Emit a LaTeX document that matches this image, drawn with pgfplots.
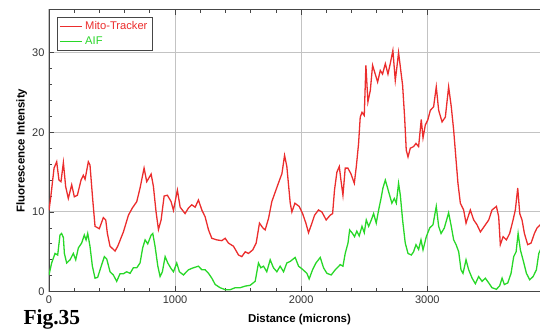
\documentclass[border=0pt]{standalone}
\usepackage{pgfplots}
\pgfplotsset{compat=1.18}
\usepackage{fontspec}
\setmainfont{Liberation Sans}
\newfontfamily\figfont{Liberation Serif}
\definecolor{mitored}{RGB}{235,45,45}
\definecolor{aifgreen}{RGB}{40,215,40}
\definecolor{gridgray}{RGB}{195,195,195}
\definecolor{framegray}{RGB}{70,70,70}

\pgfplotstableread{
x y
0 10.2
15 12.0
40 15.5
61 16.3
79 14.0
95 13.8
114 16.2
132 13.2
153 11.7
180 13.4
201 11.9
225 12.1
254 14.0
272 14.6
286 14.1
312 16.3
325 15.9
347 11.5
365 8.2
399 7.9
431 9.3
450 9.0
463 7.3
484 5.7
524 5.1
545 5.7
590 7.5
630 9.6
661 10.5
696 11.3
722 13.0
754 15.5
775 13.8
810 14.75
828 13.2
849 10.0
868 7.8
889 9.0
913 12.0
939 12.1
968 11.3
987 10.2
1018 12.75
1040 10.6
1079 9.8
1106 10.5
1132 10.9
1159 10.6
1185 11.5
1212 10.25
1238 9.4
1265 7.75
1291 6.7
1331 6.5
1370 6.4
1397 6.7
1423 6.1
1463 5.7
1503 4.6
1529 4.4
1556 5.0
1582 4.8
1616 5.25
1643 6.1
1669 8.6
1696 8.0
1714 7.75
1741 9.2
1767 11.3
1794 12.5
1828 14.0
1847 14.8
1868 17.1
1886 15.7
1913 11.1
1926 10.0
1950 11.1
1984 10.7
2011 9.8
2037 8.6
2058 7.4
2085 8.6
2106 9.6
2137 10.25
2164 10.0
2198 9.0
2230 9.6
2249 9.8
2264 12.75
2283 15.0
2302 15.7
2315 14.0
2331 12.1
2349 15.5
2370 15.5
2394 14.8
2421 13.6
2437 15.7
2455 18.6
2468 21.9
2482 22.5
2500 22.1
2513 28.4
2529 23.8
2548 25.25
2566 28.4
2587 27.3
2606 26.3
2627 27.75
2645 27.3
2667 28.6
2688 27.3
2706 28.6
2727 30.25
2746 26.5
2759 28.2
2772 30.0
2786 28.2
2804 25.9
2820 21.9
2833 17.75
2847 16.9
2865 18.0
2891 18.2
2910 18.6
2931 18.2
2952 21.6
2966 19.3
2984 20.9
3003 21.5
3024 22.75
3050 23.2
3071 25.7
3090 22.75
3117 21.3
3143 21.9
3169 25.7
3190 23.2
3209 20.25
3228 16.5
3243 13.6
3262 11.1
3288 10.25
3307 8.6
3341 10.25
3368 9.0
3394 8.4
3421 7.5
3452 8.2
3487 9.0
3513 10.25
3548 10.7
3566 9.4
3579 5.9
3601 6.9
3627 6.5
3653 7.3
3680 9.0
3698 10.25
3717 13.0
3733 9.8
3751 9.0
3770 7.3
3796 5.9
3823 6.1
3849 7.3
3870 8.0
3897 8.4
3933 8.0
}\mitodata

\pgfplotstableread{
x y
0 2.1
21 3.6
48 4.8
69 4.6
87 7.1
100 7.3
114 6.8
122 4.8
140 3.6
167 4.0
193 4.8
212 4.0
233 5.5
259 6.1
280 7.1
294 6.5
307 7.3
325 5.7
344 3.2
365 1.7
386 1.8
418 3.4
439 4.4
458 4.1
484 2.5
510 2.1
537 1.3
563 2.25
590 2.25
616 2.5
643 2.3
669 3.0
696 3.0
722 3.6
743 5.5
762 6.5
783 6.0
810 7.1
823 7.3
841 5.7
863 3.2
881 1.9
899 2.5
921 4.4
942 3.6
968 2.9
987 2.5
1013 3.6
1034 2.5
1066 2.1
1106 2.75
1145 3.0
1185 3.2
1212 2.75
1238 2.75
1265 2.3
1291 1.7
1318 0.9
1357 0.5
1397 0.25
1437 0.25
1476 0.5
1516 0.5
1556 0.7
1595 0.8
1635 1.3
1661 3.6
1680 3.0
1701 3.2
1727 2.5
1754 4.0
1780 3.0
1807 2.5
1833 3.2
1860 2.5
1886 3.6
1913 3.8
1952 4.3
1979 3.2
2011 2.8
2045 2.3
2063 1.6
2090 2.75
2117 3.6
2151 4.3
2177 3.0
2204 2.3
2238 2.1
2270 2.75
2310 3.4
2331 3.2
2349 4.8
2371 6.1
2384 7.75
2407 7.3
2423 6.9
2441 7.6
2460 7.0
2482 8.2
2500 7.4
2516 9.0
2535 8.2
2556 9.0
2574 9.8
2595 8.6
2614 10.25
2633 11.7
2648 13.0
2667 14.0
2685 13.0
2701 12.1
2719 11.1
2738 11.7
2754 11.1
2772 13.6
2786 12.1
2804 9.0
2825 6.1
2847 4.8
2873 4.6
2891 5.0
2910 5.9
2931 5.3
2950 6.5
2966 5.25
2992 6.9
3019 8.0
3045 8.4
3071 10.7
3090 8.2
3109 7.3
3135 8.0
3169 9.9
3190 8.2
3209 6.5
3228 5.9
3249 5.0
3267 2.75
3283 2.3
3307 4.0
3328 2.75
3355 1.7
3381 1.0
3407 1.9
3434 1.3
3460 1.7
3487 1.1
3513 0.5
3548 0.3
3574 0.75
3593 1.7
3611 0.9
3638 1.1
3664 2.3
3685 4.4
3704 5.0
3720 7.3
3738 5.25
3759 4.0
3786 2.3
3812 1.5
3839 1.9
3865 2.75
3884 4.8
3897 5.25
3933 5.3
}\aifdata

\begin{document}
\begin{tikzpicture}[x=0.77pt,y=0.77pt]
\useasboundingbox (0,0) rectangle (540,329);
\begin{axis}[
  at={(37.73pt,28.72pt)}, anchor=south west,
  scale only axis, width=381.9pt, height=217.3pt,
  xmin=0, xmax=3933, ymin=0, ymax=35.4,
  xtick={0,1000,2000,3000}, ytick={0,10,20,30},
  minor x tick num=4, minor y tick num=4,
  grid=major, major grid style={gridgray, line width=0.8pt},
  axis line style={framegray, line width=0.7pt},
  tick style={framegray, line width=0.6pt},
  major tick length=4pt, minor tick length=2.5pt,
  ticklabel style={font=\fontsize{8.5}{10}\selectfont, text=black!80},
  /pgf/number format/assume math mode=true,
  /pgf/number format/1000 sep={},
  xlabel={Distance (microns)}, ylabel={Fluorescence Intensity},
  label style={font=\bfseries\fontsize{8.8}{10}\selectfont},
  xlabel style={at={(axis description cs:0.505,-0.099)}, anchor=center},
  ylabel style={at={(axis description cs:-0.055,0.5)}, anchor=center},
  legend style={at={(axis description cs:0.016,0.975)}, anchor=north west,
    draw=framegray, font=\fontsize{8.6}{10}\selectfont, inner sep=1.5pt},
  legend cell align=left,
]
\addplot[mitored, line width=1pt] table[x=x, y=y] {\mitodata};
\addlegendentry{\textcolor{mitored}{Mito-Tracker}}
\addplot[aifgreen, line width=1pt] table[x=x, y=y] {\aifdata};
\addlegendentry{\textcolor{aifgreen}{AIF}}
\end{axis}
\node[anchor=base west, font=\figfont\bfseries\fontsize{16.5}{18}\selectfont] at (19,4) {Fig.35};
\end{tikzpicture}
\end{document}
